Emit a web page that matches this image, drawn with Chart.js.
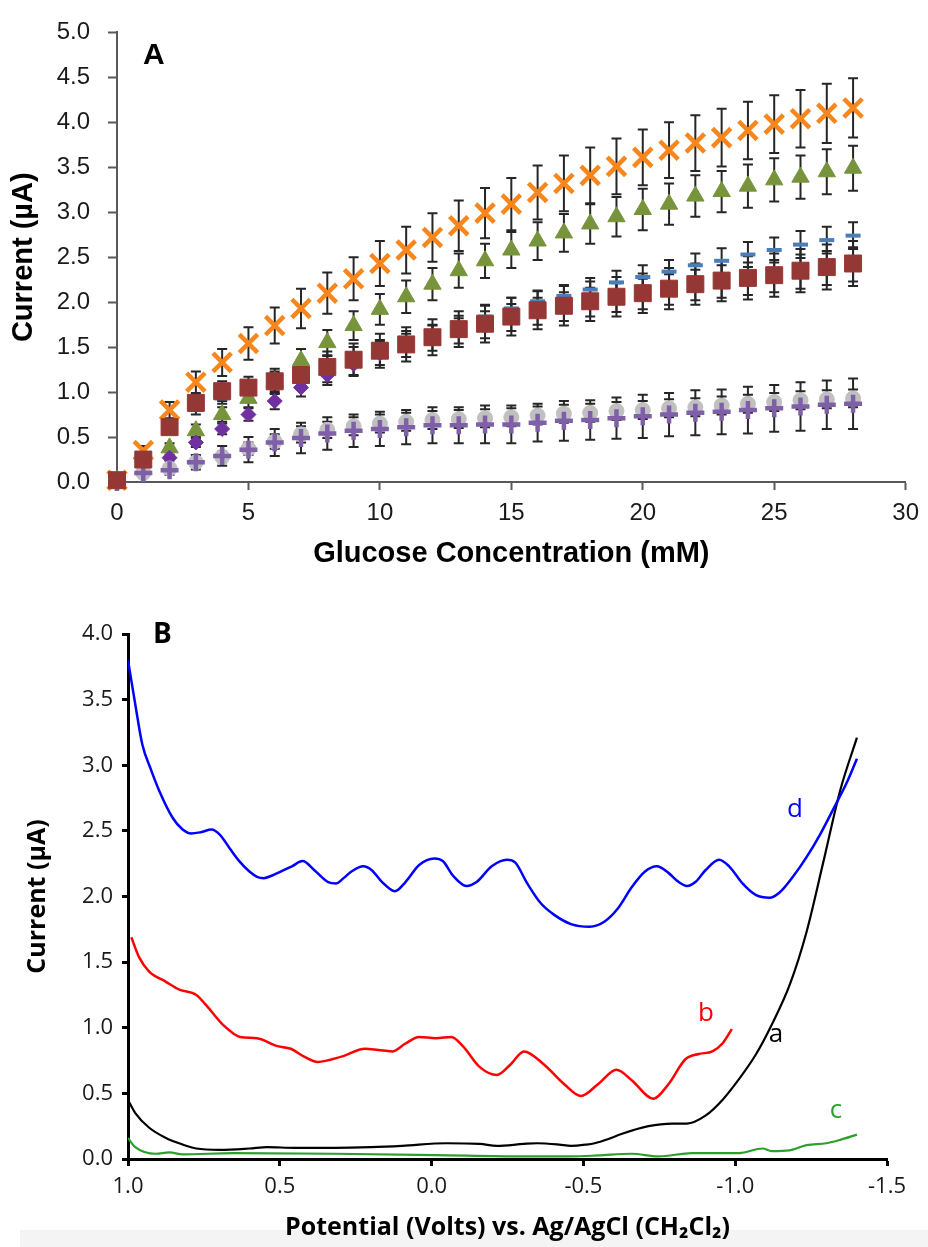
<!DOCTYPE html>
<html>
<head>
<meta charset="utf-8">
<script src="https://cdn.jsdelivr.net/npm/chart.js@4.4.1/dist/chart.umd.min.js"></script>
<style>
  html, body { margin: 0; padding: 0; background: #fff; }
  #wrap { position: relative; width: 928px; height: 1247px; overflow: hidden; }
  #chartA { position: absolute; left: 0; top: 0; }
  #chartB { position: absolute; left: 0; top: 590px; }
  #band { position: absolute; left: 20px; top: 1230px; width: 908px; height: 17px; background: #f4f4f4; }
</style>
</head>
<body>
<div id="wrap">
  <div id="band"></div>
  <canvas id="chartA" width="928" height="590"></canvas>
  <canvas id="chartB" width="928" height="657"></canvas>
</div>
<script>
// ---- panel A: current vs glucose concentration ----
const concentration = [0,1,2,3,4,5,6,7,8,9,10,11,12,13,14,15,16,17,18,19,20,21,22,23,24,25,26,27,28];

const crossVals = [0.02,0.35,0.80,1.11,1.33,1.54,1.74,1.93,2.10,2.26,2.43,2.58,2.72,2.85,2.99,3.09,3.22,3.32,3.41,3.51,3.61,3.69,3.77,3.83,3.91,3.98,4.04,4.10,4.16];
const crossErr  = [0,0.05,0.09,0.12,0.15,0.18,0.20,0.22,0.23,0.24,0.25,0.26,0.27,0.28,0.28,0.29,0.30,0.31,0.31,0.31,0.31,0.31,0.31,0.32,0.32,0.32,0.32,0.33,0.33];

const triangleVals = [0.02,0.15,0.38,0.57,0.75,0.93,1.12,1.35,1.55,1.74,1.92,2.06,2.20,2.35,2.46,2.58,2.68,2.77,2.87,2.95,3.03,3.09,3.18,3.23,3.29,3.36,3.39,3.45,3.49];
const triangleErr  = [0,0.03,0.05,0.07,0.08,0.10,0.11,0.13,0.14,0.16,0.17,0.18,0.18,0.19,0.19,0.20,0.21,0.21,0.22,0.22,0.23,0.23,0.23,0.23,0.24,0.24,0.24,0.25,0.25];

const dashVals = [0.02,0.27,0.62,0.80,0.93,1.05,1.13,1.22,1.31,1.40,1.48,1.57,1.64,1.74,1.84,1.93,2.01,2.07,2.14,2.22,2.28,2.34,2.41,2.46,2.53,2.58,2.64,2.69,2.74];
const dashErr  = [0,0.02,0.04,0.05,0.06,0.07,0.08,0.09,0.09,0.10,0.10,0.11,0.11,0.11,0.12,0.12,0.12,0.12,0.13,0.13,0.13,0.13,0.13,0.14,0.14,0.14,0.15,0.15,0.15];

const squareVals = [0.02,0.25,0.61,0.88,1.01,1.05,1.12,1.19,1.28,1.36,1.46,1.53,1.61,1.70,1.76,1.84,1.91,1.96,2.01,2.06,2.10,2.15,2.20,2.24,2.27,2.30,2.35,2.39,2.43];
const squareErr  = [0,0.03,0.06,0.09,0.11,0.12,0.14,0.16,0.17,0.18,0.19,0.19,0.20,0.20,0.21,0.21,0.21,0.22,0.22,0.22,0.22,0.23,0.23,0.23,0.24,0.24,0.24,0.25,0.25];

const diamondVals = [0.0,0.12,0.27,0.44,0.59,0.75,0.90,1.05,1.19,1.31,1.43,1.52,1.60,1.68,1.75,1.83,1.90,1.95,2.00,2.05,2.09,2.14,2.19,2.23,2.26,2.29,2.34,2.38,2.42];
const diamondErr  = [0,0.02,0.03,0.05,0.06,0.07,0.09,0.10,0.11,0.12,0.13,0.13,0.14,0.14,0.15,0.15,0.15,0.16,0.16,0.16,0.17,0.17,0.17,0.18,0.18,0.18,0.19,0.19,0.19];

const circleVals = [0.0,0.10,0.15,0.22,0.28,0.37,0.45,0.53,0.58,0.62,0.65,0.67,0.69,0.70,0.71,0.72,0.74,0.76,0.77,0.79,0.80,0.82,0.83,0.85,0.87,0.89,0.91,0.92,0.93];
const circleErr  = [0,0.02,0.03,0.05,0.06,0.07,0.08,0.09,0.09,0.10,0.10,0.10,0.10,0.10,0.10,0.10,0.10,0.10,0.10,0.10,0.10,0.10,0.10,0.10,0.10,0.10,0.10,0.10,0.10];

const plusVals = [0.0,0.10,0.13,0.22,0.29,0.36,0.44,0.49,0.54,0.57,0.59,0.61,0.63,0.63,0.64,0.64,0.66,0.68,0.69,0.71,0.73,0.75,0.77,0.78,0.80,0.82,0.84,0.86,0.87];
const plusErr  = [0,0.03,0.05,0.08,0.11,0.14,0.15,0.17,0.18,0.18,0.19,0.19,0.20,0.20,0.21,0.21,0.21,0.22,0.22,0.23,0.24,0.24,0.25,0.25,0.26,0.26,0.27,0.27,0.28];

// ---- panel B: voltammograms (potential V, current µA) ----
const potentialD = [1.0,0.975,0.953,0.925,0.898,0.853,0.82,0.792,0.76,0.725,0.697,0.663,0.63,0.6,0.575,0.553,0.525,0.497,0.46,0.425,0.386,0.341,0.314,0.29,0.264,0.225,0.197,0.163,0.121,0.086,0.041,-0.009,-0.037,-0.07,-0.115,-0.148,-0.198,-0.248,-0.275,-0.315,-0.359,-0.404,-0.459,-0.52,-0.57,-0.614,-0.659,-0.703,-0.742,-0.78,-0.814,-0.841,-0.869,-0.902,-0.947,-0.98,-1.024,-1.069,-1.113,-1.146,-1.19,-1.235,-1.279,-1.324,-1.368,-1.401];
const currentD   = [3.80,3.45,3.16,2.97,2.81,2.60,2.51,2.48,2.49,2.51,2.47,2.36,2.26,2.19,2.15,2.14,2.16,2.19,2.23,2.27,2.20,2.11,2.10,2.14,2.19,2.23,2.20,2.11,2.04,2.11,2.24,2.29,2.27,2.16,2.08,2.11,2.23,2.28,2.26,2.10,1.95,1.86,1.79,1.77,1.81,1.91,2.07,2.19,2.23,2.18,2.11,2.08,2.11,2.20,2.28,2.23,2.10,2.01,1.99,2.03,2.15,2.30,2.47,2.67,2.87,3.05];

const potentialB = [0.989,0.964,0.931,0.875,0.831,0.775,0.742,0.686,0.631,0.575,0.508,0.464,0.42,0.375,0.297,0.219,0.175,0.13,0.086,0.041,-0.014,-0.065,-0.103,-0.159,-0.215,-0.26,-0.304,-0.37,-0.437,-0.492,-0.548,-0.609,-0.659,-0.73,-0.78,-0.836,-0.88,-0.925,-0.958,-0.989];
const currentB   = [1.69,1.54,1.43,1.35,1.29,1.25,1.17,1.02,0.93,0.92,0.86,0.84,0.78,0.74,0.78,0.84,0.83,0.82,0.88,0.93,0.92,0.93,0.86,0.70,0.64,0.72,0.82,0.72,0.57,0.48,0.57,0.68,0.60,0.46,0.57,0.76,0.80,0.82,0.88,0.99];

const potentialA = [1.0,0.976,0.931,0.875,0.82,0.775,0.697,0.6,0.542,0.45,0.32,0.2,0.097,-0.048,-0.159,-0.215,-0.304,-0.348,-0.42,-0.459,-0.51,-0.537,-0.58,-0.625,-0.714,-0.792,-0.841,-0.902,-0.958,-1.013,-1.069,-1.124,-1.18,-1.235,-1.29,-1.346,-1.401];
const currentA   = [0.45,0.35,0.24,0.16,0.11,0.08,0.07,0.08,0.09,0.085,0.085,0.09,0.10,0.12,0.115,0.10,0.115,0.12,0.11,0.10,0.11,0.12,0.15,0.19,0.25,0.27,0.27,0.33,0.45,0.61,0.80,1.04,1.33,1.73,2.26,2.81,3.21];

const potentialC = [1.0,0.976,0.909,0.864,0.82,0.653,0.32,-0.014,-0.304,-0.459,-0.548,-0.659,-0.747,-0.858,-1.013,-1.09,-1.12,-1.18,-1.235,-1.3,-1.346,-1.401];
const currentC   = [0.16,0.09,0.04,0.05,0.035,0.045,0.04,0.03,0.02,0.02,0.027,0.04,0.02,0.045,0.045,0.08,0.06,0.066,0.106,0.12,0.146,0.186];

const curveLabels = [
  { text: 'd', x: -1.197, y: 2.66, color: '#0000ff' },
  { text: 'b', x: -0.904, y: 1.11, color: '#ff0000' },
  { text: 'a', x: -1.134, y: 0.95, color: '#000000' },
  { text: 'c', x: -1.332, y: 0.37, color: '#2ca02c' }
];

function toPoints(xs, ys) {
    return xs.map((x, i) => ({ x: x, y: ys[i] }));
}

function markerSet(values, errors, style, color, radius, lineWidth) {
    return {
        data: toPoints(concentration, values),
        errors: errors,
        showLine: false,
        pointStyle: style,
        pointRadius: radius,
        pointHoverRadius: radius,
        pointBackgroundColor: color,
        pointBorderColor: color,
        pointBorderWidth: lineWidth,
        clip: false
    };
}

// vertical error bars with caps, drawn under the markers
const errorBars = {
    id: 'errorBars',
    beforeDatasetsDraw(chart) {
        const { ctx, scales: { x, y } } = chart;
        ctx.save();
        ctx.strokeStyle = '#262626';
        ctx.lineWidth = 2;
        chart.data.datasets.forEach(ds => {
            if (!ds.errors) return;
            ds.data.forEach((p, i) => {
                const e = ds.errors[i];
                if (!e) return;
                const px = x.getPixelForValue(p.x);
                const top = y.getPixelForValue(p.y + e);
                const bot = y.getPixelForValue(p.y - e);
                ctx.beginPath();
                ctx.moveTo(px, top); ctx.lineTo(px, bot);
                ctx.moveTo(px - 5, top); ctx.lineTo(px + 5, top);
                ctx.moveTo(px - 5, bot); ctx.lineTo(px + 5, bot);
                ctx.stroke();
            });
        });
        ctx.restore();
    }
};

function panelLetter(letter, font, dx, dy) {
    return {
        id: 'panelLetter' + letter,
        afterDraw(chart) {
            const { ctx, chartArea } = chart;
            ctx.save();
            ctx.font = font;
            ctx.fillStyle = '#000';
            ctx.textBaseline = 'alphabetic';
            ctx.fillText(letter, chartArea.left + dx, chartArea.top + dy);
            ctx.restore();
        }
    };
}

const labelCurves = {
    id: 'labelCurves',
    afterDatasetsDraw(chart) {
        const { ctx, scales: { x, y } } = chart;
        ctx.save();
        ctx.font = '26px "Open Sans"';
        ctx.textAlign = 'center';
        ctx.textBaseline = 'middle';
        curveLabels.forEach(l => {
            ctx.fillStyle = l.color;
            ctx.fillText(l.text, x.getPixelForValue(l.x), y.getPixelForValue(l.y));
        });
        ctx.restore();
    }
};

const fontA = 'Liberation Sans';
const axisGrey = '#595959';

new Chart(document.getElementById('chartA'), {
    type: 'scatter',
    data: {
        datasets: [
            markerSet(squareVals, squareErr, 'rect', '#953735', 12, 1),
            markerSet(dashVals, dashErr, 'line', '#4a7ebb', 7.5, 4),
            markerSet(plusVals, plusErr, 'cross', '#7f5fa8', 9, 4.5),
            markerSet(circleVals, circleErr, 'circle', '#c0c0c0', 7.5, 1),
            markerSet(diamondVals, diamondErr, 'rectRot', '#7030a0', 7.5, 1),
            markerSet(triangleVals, triangleErr, 'triangle', '#77933c', 10, 1),
            markerSet(crossVals, crossErr, 'crossRot', '#f7861c', 13, 4.5)
        ]
    },
    options: {
        responsive: false,
        animation: false,
        layout: { padding: { top: 25, right: 17, left: 0, bottom: 0 } },
        plugins: { legend: { display: false }, tooltip: { enabled: false } },
        scales: {
            x: {
                type: 'linear', min: 0, max: 30,
                afterFit: s => { s.height = 108; },
                border: { display: true, color: axisGrey, width: 2 },
                grid: { drawOnChartArea: false, drawTicks: true, tickLength: 8, tickColor: axisGrey, tickWidth: 2 },
                ticks: { stepSize: 5, padding: 9, color: '#1a1a1a', font: { family: fontA, size: 24 } },
                title: { display: true, text: 'Glucose Concentration (mM)', color: '#000',
                         font: { family: fontA, size: 29, weight: 'bold' }, padding: { bottom: 19 } }
            },
            y: {
                min: 0, max: 5,
                afterFit: s => { s.width = 117; },
                border: { display: true, color: axisGrey, width: 2 },
                grid: { drawOnChartArea: false, drawTicks: true, tickLength: 9, tickColor: axisGrey, tickWidth: 2 },
                ticks: { stepSize: 0.5, padding: 18, color: '#1a1a1a', font: { family: fontA, size: 24 },
                         callback: v => v.toFixed(1) },
                title: { display: true, text: 'Current (µA)', color: '#000',
                         font: { family: fontA, size: 29, weight: 'bold' }, padding: { top: 7 } }
            }
        }
    },
    plugins: [errorBars, panelLetter('A', 'bold 30px "Liberation Sans"', 26, 32)]
});

const fontB = 'Open Sans';

function curve(xs, ys, color, width) {
    return {
        data: toPoints(xs, ys),
        borderColor: color,
        borderWidth: width,
        pointRadius: 0,
        cubicInterpolationMode: 'monotone',
        fill: false
    };
}

new Chart(document.getElementById('chartB'), {
    type: 'line',
    data: {
        datasets: [
            curve(potentialD, currentD, '#0000ff', 2.5),
            curve(potentialB, currentB, '#ff0000', 2.5),
            curve(potentialA, currentA, '#000000', 2.2),
            curve(potentialC, currentC, '#2ca02c', 2.2)
        ]
    },
    options: {
        responsive: false,
        animation: false,
        layout: { padding: { top: 44, right: 41, left: 0, bottom: 0 } },
        plugins: { legend: { display: false }, tooltip: { enabled: false } },
        scales: {
            x: {
                type: 'linear', min: -1.5, max: 1.0, reverse: true,
                afterFit: s => { s.height = 88; },
                border: { display: true, color: '#000', width: 3 },
                grid: { drawOnChartArea: false, drawTicks: true, tickLength: 7, tickColor: '#000', tickWidth: 3 },
                ticks: { stepSize: 0.5, padding: 8, color: '#1a1a1a', font: { family: fontB, size: 22 },
                         callback: v => v.toFixed(1) },
                title: { display: true, text: 'Potential (Volts) vs. Ag/AgCl (CH₂Cl₂)', color: '#000',
                         font: { family: fontB, size: 25, weight: 'bold' }, padding: { bottom: 4 } }
            },
            y: {
                min: 0, max: 4,
                afterFit: s => { s.width = 128; },
                border: { display: true, color: '#000', width: 3 },
                grid: { drawOnChartArea: false, drawTicks: true, tickLength: 6, tickColor: '#000', tickWidth: 3 },
                ticks: { stepSize: 0.5, padding: 9, color: '#1a1a1a', font: { family: fontB, size: 22 },
                         callback: v => v.toFixed(1) },
                title: { display: true, text: 'Current (µA)', color: '#000',
                         font: { family: fontB, size: 25, weight: 'bold' }, padding: { top: 23 } }
            }
        }
    },
    plugins: [labelCurves, panelLetter('B', 'bold 28px "Open Sans"', 25, 9)]
});
</script>
</body>
</html>
